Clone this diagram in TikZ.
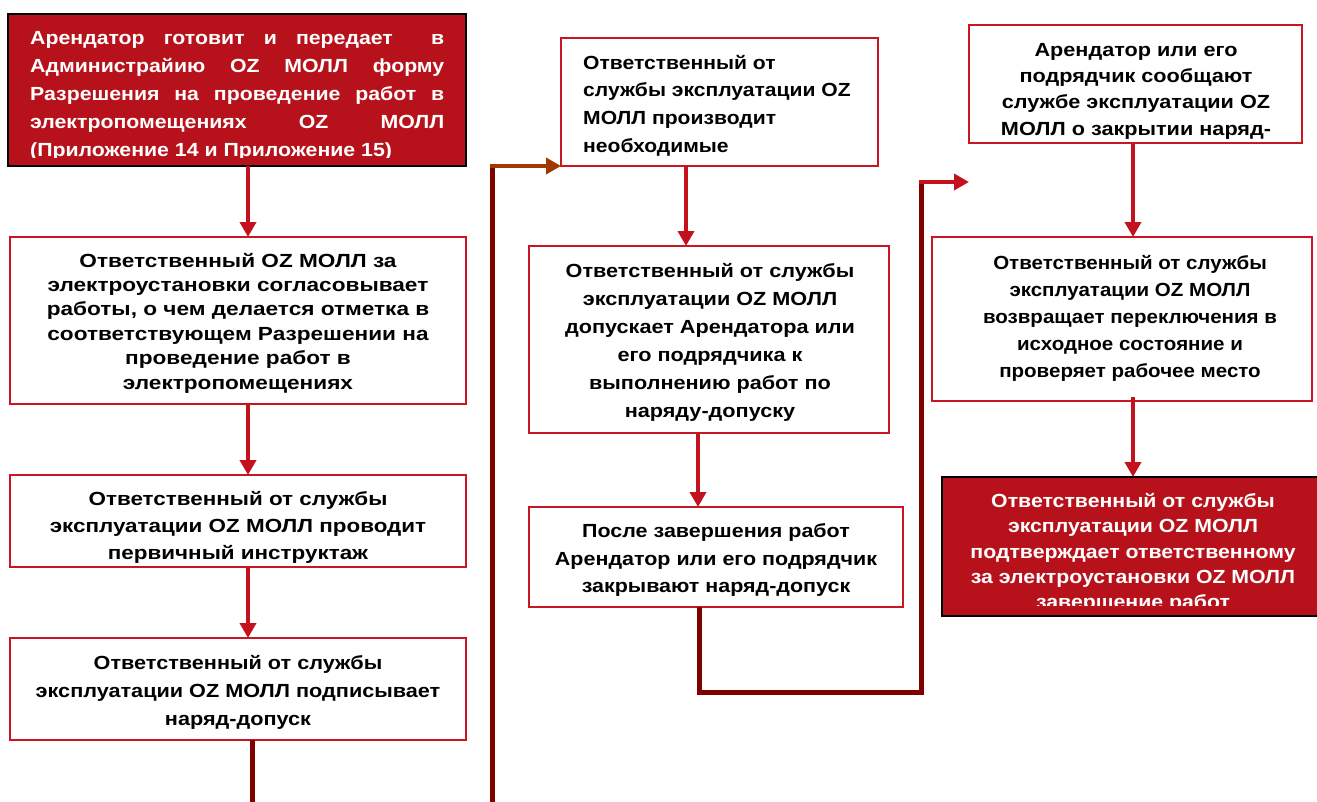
\documentclass[tikz,border=0pt]{standalone}
\usepackage{fontspec}
\setmainfont{Liberation Sans}
\usetikzlibrary{arrows.meta}
\definecolor{boxred}{RGB}{183,18,27}
\definecolor{edgered}{RGB}{200,22,36}
\definecolor{arrred}{RGB}{196,17,30}
\definecolor{darkline}{RGB}{128,0,0}
\definecolor{brownline}{RGB}{160,56,0}
\begin{document}
\begin{tikzpicture}[x=1pt,y=-1pt,
  wbox/.style={draw=edgered, line width=2.5pt, fill=white, inner sep=0pt, outer sep=0pt, anchor=north west},
  rbox/.style={draw=black, line width=2pt, fill=boxred, inner sep=0pt, outer sep=0pt, anchor=north west},
  txt/.style 2 args={inner sep=0pt, align=center, font=\fontsize{19}{#1}\selectfont\bfseries\addfontfeatures{FakeStretch=#2}},
  wtxt/.style 2 args={txt={#1}{#2}, text=white},
  redarrow/.style={draw=arrred, line width=4.5pt, -{Triangle[width=16pt,length=15pt]}},
  brownarrow/.style={draw=brownline, line width=4.5pt, -{Triangle[width=16pt,length=15pt]}},
  darkpath/.style={draw=darkline, line width=5pt}]
\clip (0,0) rectangle (1317,801);
\fill[white] (0,0) rectangle (1317,801);

% boxes
\node[rbox, minimum width=458pt, minimum height=152pt] (b1) at (8,14) {};
\node[wbox, minimum width=456pt, minimum height=167pt] (b2) at (10,237) {};
\node[wbox, minimum width=456pt, minimum height=92pt] (b3) at (10,475) {};
\node[wbox, minimum width=456pt, minimum height=102pt] (b4) at (10,638) {};
\node[wbox, minimum width=317pt, minimum height=128pt] (b5) at (561,38) {};
\node[wbox, minimum width=360pt, minimum height=187pt] (b6) at (529,246) {};
\node[wbox, minimum width=374pt, minimum height=100pt] (b7) at (529,507) {};
\node[wbox, minimum width=333pt, minimum height=118pt] (b8) at (969,25) {};
\node[wbox, minimum width=380pt, minimum height=164pt] (b9) at (932,237) {};
\node[rbox, minimum width=382pt, minimum height=139pt] (b10) at (942,477) {};

% texts
\begin{scope}
\clip (9,15) rectangle (465,157);
\node[wtxt={27.8}{1.12}, align=left, anchor=north west] (t1) at (30,31.7)
{\makebox[414pt][s]{Арендатор готовит и передает \ в}\\
 \makebox[414pt][s]{Администрайию OZ МОЛЛ форму}\\
 \makebox[414pt][s]{Разрешения на проведение работ в}\\
 \makebox[414pt][s]{электропомещениях OZ МОЛЛ}\\
 (Приложение 14 и Приложение 15)};
\end{scope}

\node[txt={24.4}{1.19}] (t2) at (238,323)
{Ответственный OZ МОЛЛ за\\электроустановки согласовывает\\работы, о чем делается отметка в\\соответствующем Разрешении на\\проведение работ в\\электропомещениях};
\node[txt={27}{1.18}] (t3) at (238,527.5)
{Ответственный от службы\\эксплуатации OZ МОЛЛ проводит\\первичный инструктаж};
\node[txt={28}{1.14}] (t4) at (238,692)
{Ответственный от службы\\эксплуатации OZ МОЛЛ подписывает\\наряд-допуск};
\node[txt={27.7}{1.11}, align=left, anchor=west] (t5) at (583,105.5)
{Ответственный от\\службы эксплуатации OZ\\МОЛЛ производит\\необходимые};
\node[txt={28}{1.14}] (t6) at (710,342)
{Ответственный от службы\\эксплуатации OZ МОЛЛ\\допускает Арендатора или\\его подрядчика к\\выполнению работ по\\наряду-допуску};
\node[txt={27.5}{1.13}] (t7) at (716,560)
{После завершения работ\\Арендатор или его подрядчик\\закрывают наряд-допуск};
\node[txt={26.3}{1.14}] (t8) at (1136,91)
{Арендатор или его\\подрядчик сообщают\\службе эксплуатации OZ\\МОЛЛ о закрытии наряд-};
\node[txt={27}{1.08}] (t9) at (1130,318)
{Ответственный от службы\\эксплуатации OZ МОЛЛ\\возвращает переключения в\\исходное состояние и\\проверяет рабочее место};
\begin{scope}
\clip (943,478) rectangle (1317,605);
\node[wtxt={25.25}{1.12}] (t10) at (1133,553)
{Ответственный от службы\\эксплуатации OZ МОЛЛ\\подтверждает ответственному\\за электроустановки OZ МОЛЛ\\завершение работ};
\end{scope}

% connectors, left column
\draw[redarrow] ([xshift=11pt]b1.south) -- ([xshift=10pt]b2.north);
\draw[redarrow] ([xshift=10pt]b2.south) -- ([xshift=10pt]b3.north);
\draw[redarrow] ([xshift=10pt]b3.south) -- ([xshift=10pt]b4.north);
\coordinate (c1) at (252,805);
\draw[darkpath] ([xshift=14pt]b4.south) -- (c1);

% up line into middle column
\coordinate (c2) at (492,805);
\coordinate (c3) at (492,166);
\draw[darkpath] (c2) -- (c3);
\draw[brownarrow] ([xshift=-2.5pt]c3) -- (c3 -| b5.south west);

% middle column
\draw[redarrow] ([xshift=-33.5pt]b5.south) -- ([xshift=-23pt]b6.north);
\draw[redarrow] ([xshift=-11pt]b6.south) -- ([xshift=-18pt]b7.north);
\coordinate (c5) at (921,692);
\coordinate (c6) at (921,182);
\coordinate (c7) at (969,182);
\draw[darkpath] ([xshift=-17pt]b7.south) |- (c5) -- (c6);
\draw[redarrow] ([xshift=-2.5pt]c6) -- (c7);

% right column
\draw[redarrow] ([xshift=-2.5pt]b8.south) -- ([xshift=11pt]b9.north);
\draw[redarrow] ([xshift=11pt,yshift=4pt]b9.south) -- (b10.north);
\end{tikzpicture}
\end{document}
